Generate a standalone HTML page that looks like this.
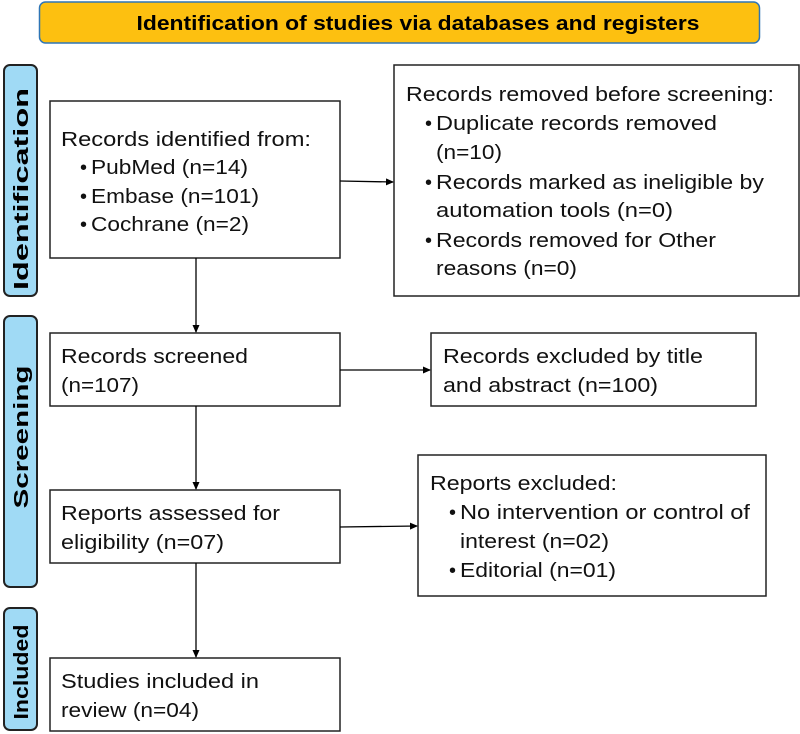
<!DOCTYPE html>
<html><head><meta charset="utf-8"><style>html,body{margin:0;padding:0;background:#fff}svg{display:block}</style></head>
<body>
<svg width="800" height="734" viewBox="0 0 800 734" xmlns="http://www.w3.org/2000/svg" font-family="Liberation Sans, sans-serif">
<defs><marker id="a" markerWidth="8" markerHeight="8" refX="7" refY="4" orient="auto" markerUnits="userSpaceOnUse"><path d="M0,0.5 L8,4 L0,7.5 z" fill="#000"/></marker></defs>
<rect x="39.5" y="2" width="720" height="41" rx="6" fill="#fdc010" stroke="#2e75b6" stroke-width="1.5"/>
<text x="418" y="30" text-anchor="middle" font-size="20" font-weight="bold" textLength="563" lengthAdjust="spacingAndGlyphs">Identification of studies via databases and registers</text>
<g fill="#a0daf5" stroke="#222" stroke-width="2">
<rect x="4" y="65" width="33" height="231" rx="6"/>
<rect x="4" y="316" width="33" height="271" rx="6"/>
<rect x="4" y="608" width="33" height="122" rx="6"/>
</g>
<g font-size="20" font-weight="bold">
<text transform="translate(28,189) rotate(-90)" text-anchor="middle" textLength="202" lengthAdjust="spacingAndGlyphs">Identification</text>
<text transform="translate(28,437) rotate(-90)" text-anchor="middle" textLength="143" lengthAdjust="spacingAndGlyphs">Screening</text>
<text transform="translate(28,672) rotate(-90)" text-anchor="middle" textLength="95" lengthAdjust="spacingAndGlyphs">Included</text>
</g>
<g fill="#fff" stroke="#222" stroke-width="1.5">
<rect x="50" y="101" width="290" height="157"/>
<rect x="394" y="65" width="405" height="231"/>
<rect x="50" y="333" width="290" height="73"/>
<rect x="431" y="333" width="325" height="73"/>
<rect x="50" y="490" width="290" height="73"/>
<rect x="418" y="455" width="348" height="141"/>
<rect x="50" y="658" width="290" height="73"/>
</g>
<g stroke="#000" stroke-width="1.3" fill="none" marker-end="url(#a)">
<line x1="340" y1="181" x2="393" y2="182"/>
<line x1="196" y1="258" x2="196" y2="332"/>
<line x1="340" y1="370" x2="430" y2="370"/>
<line x1="196" y1="406" x2="196" y2="489"/>
<line x1="340" y1="527" x2="417" y2="526"/>
<line x1="196" y1="563" x2="196" y2="657"/>
</g>
<g font-size="20" fill="#111" lengthAdjust="spacingAndGlyphs">
<text x="61" y="146" textLength="250" lengthAdjust="spacingAndGlyphs">Records identified from:</text>
<text x="80" y="174">•</text><text x="91" y="174" textLength="157" lengthAdjust="spacingAndGlyphs">PubMed (n=14)</text>
<text x="80" y="203">•</text><text x="91" y="203" textLength="168" lengthAdjust="spacingAndGlyphs">Embase (n=101)</text>
<text x="80" y="231">•</text><text x="91" y="231" textLength="158" lengthAdjust="spacingAndGlyphs">Cochrane (n=2)</text>

<text x="406" y="101" textLength="368" lengthAdjust="spacingAndGlyphs">Records removed before screening:</text>
<text x="425" y="130">•</text><text x="436" y="130" textLength="281" lengthAdjust="spacingAndGlyphs">Duplicate records removed</text>
<text x="436" y="159" textLength="66" lengthAdjust="spacingAndGlyphs">(n=10)</text>
<text x="425" y="189">•</text><text x="436" y="189" textLength="328" lengthAdjust="spacingAndGlyphs">Records marked as ineligible by</text>
<text x="436" y="217" textLength="237" lengthAdjust="spacingAndGlyphs">automation tools (n=0)</text>
<text x="425" y="247">•</text><text x="436" y="247" textLength="280" lengthAdjust="spacingAndGlyphs">Records removed for Other</text>
<text x="436" y="275" textLength="141" lengthAdjust="spacingAndGlyphs">reasons (n=0)</text>

<text x="61" y="363" textLength="187" lengthAdjust="spacingAndGlyphs">Records screened</text>
<text x="61" y="392" textLength="78" lengthAdjust="spacingAndGlyphs">(n=107)</text>

<text x="443" y="363" textLength="260" lengthAdjust="spacingAndGlyphs">Records excluded by title</text>
<text x="443" y="392" textLength="215" lengthAdjust="spacingAndGlyphs">and abstract (n=100)</text>

<text x="61" y="520" textLength="219" lengthAdjust="spacingAndGlyphs">Reports assessed for</text>
<text x="61" y="549" textLength="163" lengthAdjust="spacingAndGlyphs">eligibility (n=07)</text>

<text x="430" y="490" textLength="187" lengthAdjust="spacingAndGlyphs">Reports excluded:</text>
<text x="449" y="519">•</text><text x="460" y="519" textLength="290" lengthAdjust="spacingAndGlyphs">No intervention or control of</text>
<text x="460" y="548" textLength="149" lengthAdjust="spacingAndGlyphs">interest (n=02)</text>
<text x="449" y="577">•</text><text x="460" y="577" textLength="156" lengthAdjust="spacingAndGlyphs">Editorial (n=01)</text>

<text x="61" y="688" textLength="198" lengthAdjust="spacingAndGlyphs">Studies included in</text>
<text x="61" y="717" textLength="138" lengthAdjust="spacingAndGlyphs">review (n=04)</text>
</g>
</svg>
</body></html>
